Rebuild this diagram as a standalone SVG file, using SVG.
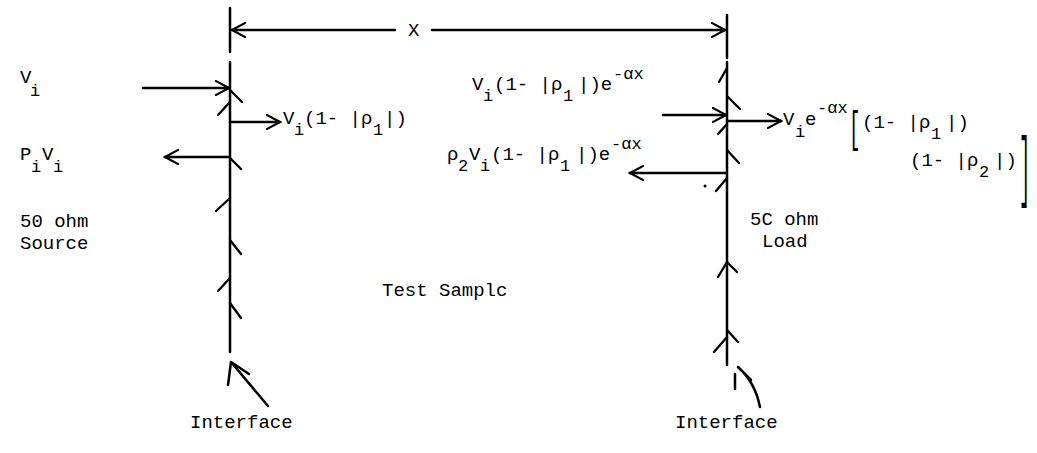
<svg xmlns="http://www.w3.org/2000/svg" width="1037" height="453" viewBox="0 0 1037 453">
<style>
text{font-family:"Liberation Mono","DejaVu Sans Mono",monospace;font-size:19px;fill:#000}
.s{font-size:17px}
.ln{stroke:#000;stroke-width:2.5;fill:none;stroke-linecap:round}
.ch{stroke:#000;stroke-width:2.3;fill:none;stroke-linecap:round}
.ar{stroke:#000;stroke-width:2.5;fill:none;stroke-linecap:round;marker-end:url(#ah)}
</style>
<defs>
<marker id="ah" viewBox="0 0 18 18" refX="16" refY="9" markerWidth="16" markerHeight="16" markerUnits="userSpaceOnUse" orient="auto">
<path d="M1,1 L16,9 L1,17" fill="none" stroke="#000" stroke-width="2.4" stroke-linecap="round"/>
</marker>
</defs>
<rect width="1037" height="453" fill="#fff"/>
<g id="connectors">
<path class="ln" d="M230,8 V52 M727,15 V58"/>
<path class="ar" d="M395,30 H232"/>
<path class="ar" d="M432,30 H725"/>
<path class="ln" d="M230,62 V352"/>
<path class="ch" d="M230,90 L242,102 M230,102 L218,115 M230,158 L241,169 M230,198 L216,211 M230,240 L241,254 M230,278 L218,291 M230,303 L241,318"/>
<path class="ar" d="M143,88 H229"/>
<path class="ar" d="M231,122 H280"/>
<path class="ar" d="M229,157 H165"/>
<path class="ln" d="M727,62 V365"/>
<path class="ch" d="M727,68 L719,82 M727,96 L740,109 M727,124 L718,134 M727,150 L739,163 M727,178 L716,191 M727,262 L718,277 M727,262 L737,272 M727,330 L738,342 M727,337 L714,352"/>
<circle cx="705" cy="186" r="1.5" fill="#000"/>
<path class="ar" d="M663,115 H726"/>
<path class="ar" d="M728,121 H781"/>
<path class="ar" d="M726,173 H630"/>
<path class="ln" d="M268,406 L231,362 M231,362 L228,385 M231,362 L249,374"/>
<path class="ln" d="M760,407 Q755,382 738,367 M738,367 L751,380 M735,374 L735,389"/>
</g>
<g id="dim-label"><text x="408" y="36">X</text></g>
<g id="vi"><text><tspan x="20" y="83">V</tspan><tspan class="s" x="30" y="96">i</tspan></text></g>
<g id="pivi"><text><tspan x="20" y="160">P</tspan><tspan class="s" x="31" y="172">i</tspan><tspan x="42" y="160">V</tspan><tspan class="s" x="53" y="172">i</tspan></text></g>
<g id="source"><text x="20" y="227">50 ohm</text><text x="20" y="249">Source</text></g>
<g id="trans1"><text><tspan x="283" y="124">V</tspan><tspan class="s" x="294" y="135">i</tspan><tspan x="304" y="124">(1- |ρ</tspan><tspan class="s" x="373" y="135">1</tspan><tspan x="384" y="124">|)</tspan></text></g>
<g id="inc2"><text><tspan x="472" y="90">V</tspan><tspan class="s" x="483" y="101">i</tspan><tspan x="494" y="90">(1- |ρ</tspan><tspan class="s" x="563" y="101">1</tspan><tspan x="578" y="90">|)e</tspan><tspan class="s" x="613" y="79">-αx</tspan></text></g>
<g id="refl2"><text><tspan x="447" y="160">ρ</tspan><tspan class="s" x="458" y="171">2</tspan><tspan x="469" y="160">V</tspan><tspan class="s" x="480" y="171">i</tspan><tspan x="491" y="160">(1- |ρ</tspan><tspan class="s" x="560" y="171">1</tspan><tspan x="576" y="160">|)e</tspan><tspan class="s" x="611" y="149">-αx</tspan></text></g>
<g id="trans2"><text><tspan x="783" y="125">V</tspan><tspan class="s" x="795" y="137">i</tspan><tspan x="805" y="125">e</tspan><tspan class="s" x="817" y="113">-αx</tspan></text>
<text transform="translate(849,142) scale(1,2.37)">[</text>
<text><tspan x="862" y="128">(1- |ρ</tspan><tspan class="s" x="931" y="139">1</tspan><tspan x="946" y="128">|)</tspan></text>
<text><tspan x="910" y="166">(1- |ρ</tspan><tspan class="s" x="979" y="177">2</tspan><tspan x="994" y="166">|)</tspan></text>
<text transform="translate(1019,192) scale(1,4.1)">]</text></g>
<g id="load"><text x="750" y="225">5C ohm</text><text x="762" y="247">Load</text></g>
<g id="sample"><text x="382" y="296">Test Samplc</text></g>
<g id="iface1"><text x="190" y="428">Interface</text></g>
<g id="iface2"><text x="675" y="428">Interface</text></g>
</svg>
